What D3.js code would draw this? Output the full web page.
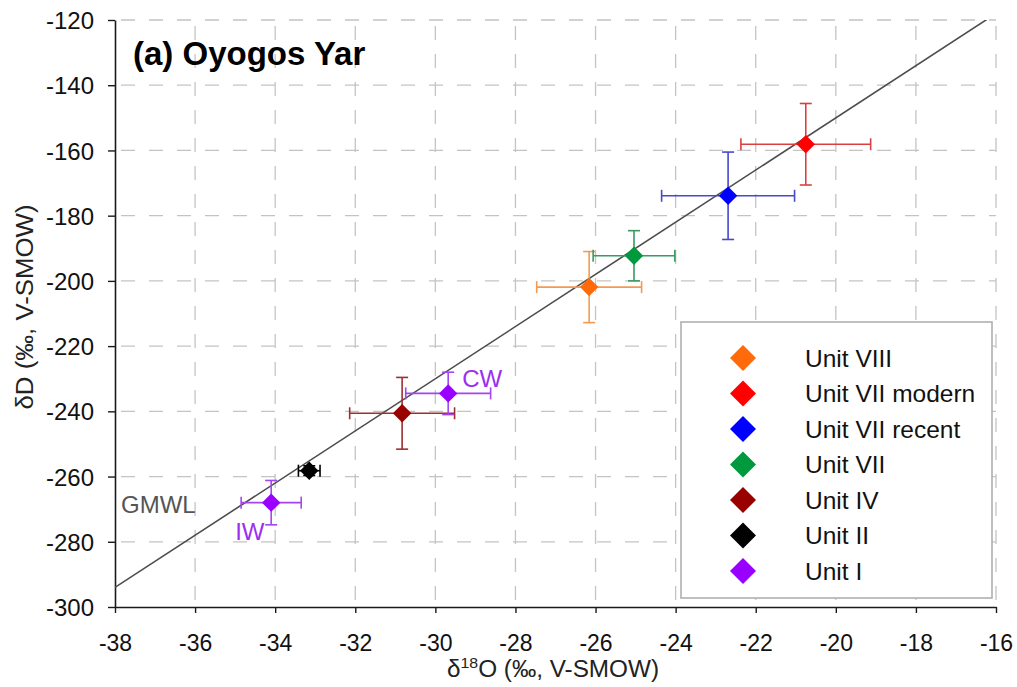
<!DOCTYPE html>
<html>
<head>
<meta charset="utf-8">
<script src="https://cdn.jsdelivr.net/npm/d3@7"></script>
<style>
  html, body { margin: 0; padding: 0; background: #fff; }
  svg { display: block; font-family: "Liberation Sans", Arial, sans-serif; }
</style>
</head>
<body>
<svg id="chart" width="1017" height="687"></svg>
<script>
// ---- Data ----
const units = ["Unit VIII", "Unit VII modern", "Unit VII recent", "Unit VII", "Unit IV", "Unit II", "Unit I"];
const unitColors = ["#ff6a0a", "#ff0000", "#0000ff", "#00993d", "#990000", "#000000", "#9900ff"];
const unitBarColors = ["#f39a52", "#d94040", "#4848cc", "#3a9a60", "#9c3030", "#000000", "#a445f0"];

const pointUnit = ["Unit VIII", "Unit VII modern", "Unit VII recent", "Unit VII", "Unit IV", "Unit II", "Unit I", "Unit I"];
const d18O      = [-26.16, -20.75, -22.69, -25.04, -30.83, -33.15, -29.68, -34.10];
const d18OErr   = [1.31, 1.62, 1.66, 1.02, 1.31, 0.27, 1.06, 0.75];
const dD        = [-201.9, -158.1, -173.9, -192.3, -240.6, -258.2, -234.5, -268.0];
const dDErr     = [10.9, 12.5, 13.4, 7.7, 11.0, 1.5, 6.5, 6.8];
const pointLabel = ["", "", "", "", "", "", "CW", "IW"];

const xTicks = [-38, -36, -34, -32, -30, -28, -26, -24, -22, -20, -18, -16];
const yTicks = [-300, -280, -260, -240, -220, -200, -180, -160, -140, -120];

// GMWL: dD = 8 * d18O + 10
const gmwlX = [-38, -16];
const gmwlSlope = 8, gmwlIntercept = 10;

// ---- Layout ----
const svg = d3.select("#chart");
const x = d3.scaleLinear().domain([-38, -16]).range([115, 996]);
const y = d3.scaleLinear().domain([-300, -120]).range([607, 20]);

svg.append("rect").attr("width", 1017).attr("height", 687).attr("fill", "#fff");

svg.append("clipPath").attr("id", "plotclip")
  .append("rect").attr("x", x(-38)).attr("y", y(-120)).attr("width", x(-16) - x(-38)).attr("height", y(-300) - y(-120));

// grid
const grid = svg.append("g").attr("stroke", "#c4c4c4").attr("stroke-width", 1.3).attr("stroke-dasharray", "14,14");
grid.selectAll(".hg").data(yTicks.filter(v => v !== -300)).join("line")
  .attr("x1", x(-38) + 6).attr("x2", x(-16)).attr("y1", d => y(d)).attr("y2", d => y(d));
grid.selectAll(".vg").data(xTicks.filter(v => v !== -38)).join("line")
  .attr("x1", d => x(d)).attr("x2", d => x(d)).attr("y1", y(-120) + 6).attr("y2", y(-300));

// axes
const fmt = d => String(d);
const yAxis = d3.axisLeft(y).tickValues(yTicks).tickFormat(fmt).tickSize(7).tickSizeOuter(0).tickPadding(14);
const xAxis = d3.axisBottom(x).tickValues(xTicks).tickFormat(fmt).tickSize(6).tickSizeOuter(0).tickPadding(22);

const gy = svg.append("g").attr("transform", `translate(${x(-38)},0)`).call(yAxis);
const gx = svg.append("g").attr("transform", `translate(0,${y(-300)})`).call(xAxis);
[gx, gy].forEach(g => {
  g.select(".domain").attr("stroke", "#1a1a1a").attr("stroke-width", 1.6);
  g.selectAll(".tick line").attr("stroke", "#1a1a1a").attr("stroke-width", 1.4);
  g.selectAll(".tick text").attr("font-size", 23).attr("fill", "#111")
    .attr("font-family", "Liberation Sans, Arial, sans-serif");
});
gy.selectAll(".tick text").attr("font-size", 24).attr("dy", "0.36em");

// GMWL line
svg.append("g").attr("clip-path", "url(#plotclip)")
  .append("line")
  .attr("x1", x(gmwlX[0])).attr("y1", y(gmwlSlope * gmwlX[0] + gmwlIntercept))
  .attr("x2", x(gmwlX[1])).attr("y2", y(gmwlSlope * gmwlX[1] + gmwlIntercept))
  .attr("stroke", "#4d4d4d").attr("stroke-width", 1.6);

// error bars
const colorOf = u => unitColors[units.indexOf(u)];
const barColorOf = u => unitBarColors[units.indexOf(u)];
const idx = d3.range(d18O.length);
const cap = 6;
const eb = svg.append("g").attr("stroke-width", 1.6).attr("fill", "none");
idx.forEach(i => {
  const c = barColorOf(pointUnit[i]);
  const g = eb.append("g").attr("stroke", c);
  const cx = x(d18O[i]), cy = y(dD[i]);
  const xl = x(d18O[i] - d18OErr[i]), xr = x(d18O[i] + d18OErr[i]);
  const yt = y(dD[i] + dDErr[i]), yb = y(dD[i] - dDErr[i]);
  g.append("line").attr("x1", xl).attr("x2", xr).attr("y1", cy).attr("y2", cy);
  g.append("line").attr("x1", xl).attr("x2", xl).attr("y1", cy - cap).attr("y2", cy + cap);
  g.append("line").attr("x1", xr).attr("x2", xr).attr("y1", cy - cap).attr("y2", cy + cap);
  g.append("line").attr("x1", cx).attr("x2", cx).attr("y1", yt).attr("y2", yb);
  g.append("line").attr("x1", cx - cap).attr("x2", cx + cap).attr("y1", yt).attr("y2", yt);
  g.append("line").attr("x1", cx - cap).attr("x2", cx + cap).attr("y1", yb).attr("y2", yb);
});

// markers (rotated squares)
const markerSym = d3.symbol().type(d3.symbolSquare).size(170);
svg.append("g").selectAll("path").data(idx).join("path")
  .attr("d", markerSym)
  .attr("transform", i => `translate(${x(d18O[i])},${y(dD[i])}) rotate(45)`)
  .attr("fill", i => colorOf(pointUnit[i]));

// point labels
const lblOffset = { "CW": [14, -6], "IW": [-36, 37] };
svg.append("g").selectAll("text").data(idx.filter(i => pointLabel[i])).join("text")
  .attr("x", i => x(d18O[i]) + lblOffset[pointLabel[i]][0])
  .attr("y", i => y(dD[i]) + lblOffset[pointLabel[i]][1])
  .attr("font-size", 24).attr("fill", "#9b30f0")
  .text(i => pointLabel[i]);

// GMWL label
svg.append("text").attr("x", 121).attr("y", 513).attr("font-size", 24).attr("fill", "#555")
  .text("GMWL");

// title
svg.append("text").attr("x", 133).attr("y", 65).attr("font-size", 33).attr("font-weight", "bold")
  .attr("fill", "#000").text("(a) Oyogos Yar");

// axis titles
const xt = svg.append("text").attr("x", 553).attr("y", 677).attr("text-anchor", "middle")
  .attr("font-size", 23).attr("fill", "#222")
  .attr("textLength", 212).attr("lengthAdjust", "spacingAndGlyphs");
xt.append("tspan").text("δ");
xt.append("tspan").attr("font-size", 15).attr("dy", -9).text("18");
xt.append("tspan").attr("dy", 9).text("O (‰, V-SMOW)");

svg.append("text").attr("transform", "translate(33,307) rotate(-90)").attr("text-anchor", "middle")
  .attr("font-size", 23).attr("fill", "#222")
  .attr("textLength", 205).attr("lengthAdjust", "spacingAndGlyphs")
  .text("δD (‰, V-SMOW)");

// legend
const lg = svg.append("g");
lg.append("rect").attr("x", 681).attr("y", 322).attr("width", 311).attr("height", 276)
  .attr("fill", "#fff").attr("stroke", "#b0b0b0").attr("stroke-width", 1.6);
const legendSym = d3.symbol().type(d3.symbolSquare).size(338);
const rowY = d3.scalePoint().domain(units).range([358, 571]);
const rows = lg.selectAll(".row").data(units).join("g")
  .attr("transform", u => `translate(0,${rowY(u)})`);
rows.append("path").attr("d", legendSym)
  .attr("transform", "translate(743,0) rotate(45)")
  .attr("fill", (u, i) => unitColors[i]);
rows.append("text").attr("x", 805).attr("dy", "0.36em").attr("font-size", 24.5).attr("fill", "#111")
  .text(u => u);
</script>
</body>
</html>
